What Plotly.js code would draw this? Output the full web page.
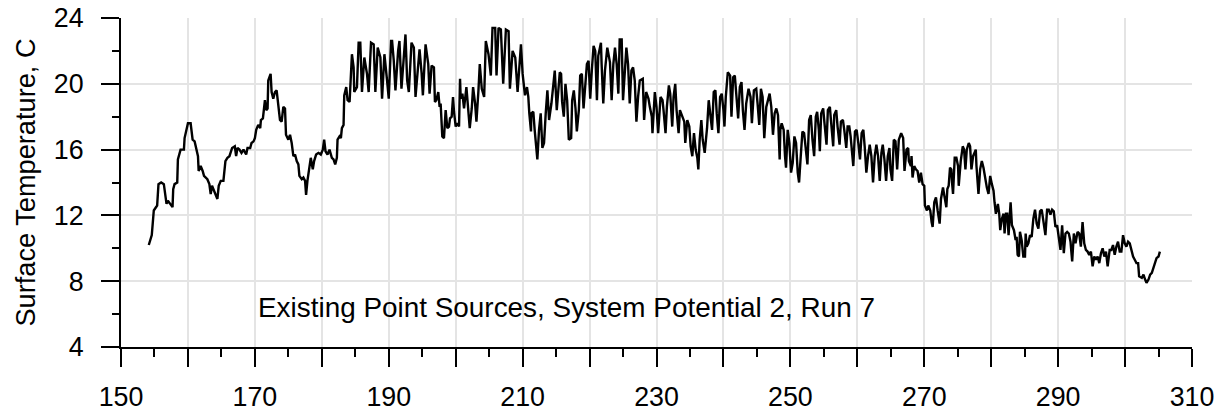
<!DOCTYPE html>
<html><head><meta charset="utf-8">
<script src="https://cdn.plot.ly/plotly-3.0.1.min.js"></script>
<style>html,body{margin:0;padding:0;background:#fff}#chart{width:1225px;height:414px}</style>
</head><body><div id="chart"></div>
<script>
const day = [
154.15,154.6,154.9,155.4,155.6,156.0,156.4,156.6,156.8,157.0,157.3,157.7,157.8,158.0,158.4,158.5,158.9,159.4,159.5,159.8,
160.0,160.4,160.5,160.7,161.0,161.2,161.5,161.6,161.9,162.2,162.4,162.9,163.2,163.4,163.6,163.9,164.4,164.6,164.9,165.3,
165.4,165.6,165.9,166.2,166.6,167.0,167.2,167.4,167.7,168.0,168.3,168.7,168.9,169.3,169.5,169.8,170.0,170.2,170.5,170.8,
170.9,171.2,171.5,171.7,171.9,172.0,172.35,172.5,172.75,173.0,173.25,173.5,173.75,174.0,174.25,174.5,174.65,175.0,175.25,175.5,
175.75,176.0,176.25,176.5,176.65,177.0,177.25,177.5,177.65,177.85,178.15,178.35,178.65,178.85,179.15,179.5,179.85,180.15,180.35,180.55,
180.85,181.15,181.5,181.75,182.0,182.25,182.35,182.65,182.85,183.0,183.25,183.35,183.65,183.85,184.15,184.35,184.5,184.75,184.85,185.25,
185.5,185.75,186.0,186.35,186.75,187.0,187.35,187.75,188.0,188.35,188.75,189.0,189.35,189.75,190.0,190.35,190.5,190.75,191.0,191.4,
191.6,191.9,192.25,192.5,192.75,193.0,193.4,193.75,194.0,194.4,194.6,194.9,195.1,195.5,195.9,196.1,196.4,196.75,196.9,197.1,
197.4,197.6,197.75,198.0,198.25,198.5,198.75,199.0,199.15,199.4,199.6,199.75,200.0,200.25,200.5,200.65,200.75,201.0,201.25,201.6,
201.9,202.1,202.4,202.6,202.9,203.1,203.4,203.6,203.9,204.25,204.5,204.9,205.25,205.5,205.9,206.1,206.4,206.75,207.1,207.5,
207.9,208.1,208.5,208.9,209.25,209.5,209.75,210.0,210.15,210.35,210.65,210.85,211.0,211.25,211.3,211.6,211.8,212.0,212.2,212.45,
212.7,212.95,213.2,213.45,213.7,213.95,214.3,214.6,214.8,215.1,215.3,215.55,215.75,215.9,216.15,216.4,216.65,216.9,217.25,217.4,
217.65,217.9,218.1,218.4,218.6,218.85,219.1,219.35,219.6,219.85,220.1,220.35,220.6,220.85,221.1,221.3,221.7,221.8,222.05,222.3,
222.65,223.05,223.3,223.55,223.8,224.05,224.3,224.5,224.8,225.0,225.3,225.5,225.75,226.0,226.25,226.5,226.75,227.0,227.25,227.5,
227.95,228.15,228.45,228.8,229.0,229.3,229.4,229.6,229.75,230.0,230.25,230.6,230.9,231.05,231.35,231.55,231.85,232.05,232.35,232.55,
232.8,233.0,233.3,233.5,233.8,234.15,234.3,234.6,234.9,235.1,235.35,235.6,235.85,236.1,236.25,236.45,236.7,236.9,237.2,237.55,
237.8,238.05,238.3,238.55,238.8,239.0,239.25,239.5,239.75,240.0,240.15,240.35,240.65,241.0,241.2,241.45,241.7,241.95,242.2,242.45,
242.7,242.9,243.15,243.4,243.75,244.05,244.25,244.55,244.9,245.1,245.35,245.6,245.85,246.1,246.4,246.9,247.15,247.4,247.65,247.9,
248.15,248.4,248.5,248.7,249.0,249.2,249.35,249.6,249.85,250.1,250.35,250.6,250.85,251.1,251.3,251.55,251.8,252.05,252.3,252.55,
252.8,253.05,253.3,253.55,253.8,254.0,254.25,254.4,254.6,254.9,255.1,255.4,255.6,255.9,256.1,256.4,256.55,256.85,257.05,257.35,
257.55,257.85,258.05,258.35,258.55,258.8,259.0,259.3,259.4,259.65,259.9,260.15,260.4,260.65,260.9,261.1,261.35,261.6,261.85,262.1,
262.35,262.6,262.85,263.1,263.35,263.6,263.8,264.05,264.3,264.55,264.8,264.95,265.2,265.45,265.7,265.95,266.2,266.55,266.85,267.05,
267.35,267.6,267.7,268.0,268.1,268.25,268.5,268.75,269.0,269.25,269.5,269.75,270.0,270.1,270.4,270.6,270.9,271.1,271.25,271.5,
271.75,272.0,272.3,272.5,272.8,273.0,273.3,273.45,273.65,273.85,274.05,274.15,274.3,274.55,274.8,275.05,275.15,275.45,275.75,275.95,
276.15,276.35,276.65,276.85,277.05,277.3,277.7,277.8,278.1,278.35,278.6,278.85,279.1,279.35,279.6,279.85,280.1,280.35,280.5,280.7,
281.0,281.2,281.35,281.6,281.85,282.0,282.2,282.4,282.6,282.9,283.1,283.4,283.65,283.8,283.95,284.15,284.3,284.55,284.8,285.05,
285.15,285.3,285.55,285.8,286.05,286.3,286.55,286.8,287.05,287.3,287.55,287.8,288.1,288.35,288.6,288.85,289.1,289.35,289.6,289.85,
290.1,290.35,290.6,290.85,291.1,291.35,291.6,291.85,292.1,292.35,292.6,292.9,293.15,293.4,293.65,293.9,294.15,294.4,294.65,294.9,
295.15,295.4,295.65,295.9,296.15,296.4,296.65,296.9,297.15,297.4,297.7,297.95,298.2,298.45,298.7,298.95,299.2,299.45,299.7,299.95,
300.2,300.45,300.7,300.95,301.2,301.45,301.7,301.95,302.1,302.5,302.75,303.0,303.2,303.5,303.75,304.0,304.25,304.5,304.7,305.0,
305.2
];
const temp = [
10.2,10.8,12.3,12.6,13.9,14.0,13.9,13.2,12.7,12.9,12.7,12.5,13.6,13.9,14.0,15.4,16.0,16.0,16.7,17.2,
17.6,17.6,17.1,16.6,16.5,16.1,15.6,14.7,15.0,14.7,14.4,14.2,13.9,13.3,13.8,13.5,13.0,13.8,14.1,14.1,
14.5,15.3,15.5,15.6,16.1,16.2,15.6,16.1,16.0,15.8,16.0,15.7,16.1,16.1,16.4,16.5,16.7,17.2,17.5,17.3,
17.8,17.9,19.0,18.4,18.5,20.2,20.6,19.5,19.1,19.5,19.6,18.8,17.8,17.7,18.6,18.5,16.9,16.6,16.9,16.4,
15.6,15.7,15.3,15.1,14.4,14.2,14.3,14.1,13.25,14.1,15.1,15.5,14.8,15.3,15.7,15.8,15.7,16.0,16.6,15.9,
15.7,16.0,15.5,15.4,15.1,15.5,16.6,16.8,16.7,17.3,17.5,19.3,19.8,19.0,18.9,20.2,21.8,21.0,19.5,19.8,
22.5,22.5,19.5,21.6,20.6,19.5,22.5,22.4,19.5,22.2,21.6,19.1,21.8,20.2,19.1,22.6,22.6,21.4,19.6,22.0,
22.6,19.7,21.6,23.0,20.2,19.5,22.5,22.2,19.2,21.0,22.1,20.7,19.3,22.4,21.2,19.4,21.1,21.0,18.9,19.0,
19.5,18.6,18.8,16.8,16.7,18.4,17.3,17.4,17.9,18.0,19.2,18.3,17.4,17.6,17.4,20.3,19.1,19.4,18.5,19.8,
18.2,17.3,18.5,19.8,18.8,17.7,19.6,21.2,19.7,19.2,22.6,21.8,20.5,23.4,23.4,20.5,23.4,23.3,20.0,23.3,
23.2,19.7,22.0,21.6,19.5,21.2,22.4,20.6,19.9,19.3,19.8,19.2,18.2,17.1,18.2,18.3,17.2,16.2,15.4,17.2,
18.2,16.1,16.4,18.2,19.6,17.8,18.8,20.0,20.8,18.4,19.7,20.7,20.6,18.9,18.0,20.0,19.0,16.6,16.7,19.0,
19.6,18.5,17.1,18.4,20.5,20.6,18.5,19.9,21.2,21.4,19.1,20.9,22.3,22.0,19.0,21.7,22.5,21.2,18.8,20.8,
22.2,21.3,19.0,21.2,22.2,21.2,19.4,22.7,22.7,19.0,20.8,22.2,21.2,18.8,20.8,21.0,20.2,17.7,19.2,20.2,
20.3,17.8,19.5,19.1,18.6,18.0,17.0,19.0,19.5,18.6,17.0,19.2,19.0,18.4,17.0,18.6,19.9,19.4,17.4,19.2,
20.0,18.4,17.0,18.4,18.1,17.7,16.4,17.8,17.4,16.2,15.6,17.0,16.0,15.5,14.8,16.6,17.8,16.6,15.8,17.3,
19.0,18.2,17.2,19.5,19.6,18.2,17.0,19.2,19.4,18.4,17.4,19.2,20.7,20.5,18.0,20.4,20.5,19.2,17.9,19.8,
20.1,18.4,17.2,18.8,19.7,19.2,17.6,19.6,19.7,18.8,17.5,19.7,19.2,16.7,18.6,19.4,18.6,16.9,18.2,18.5,
18.1,15.4,17.2,17.6,17.2,15.6,14.9,17.2,16.4,14.6,15.2,16.8,16.4,14.6,14.0,15.6,17.1,17.0,16.0,15.1,
17.8,18.1,16.6,15.6,18.0,18.3,17.2,15.9,18.2,18.5,17.6,16.3,18.4,18.6,17.6,16.2,18.1,18.4,17.4,16.3,
17.7,17.8,17.2,16.1,17.4,17.4,16.8,15.6,15.0,17.1,17.2,16.4,15.4,17.0,17.2,16.2,14.6,15.6,16.3,15.6,
14.0,15.6,16.3,15.6,14.1,15.8,16.3,15.4,14.1,15.6,16.1,14.8,14.1,16.6,16.5,14.8,16.6,17.0,16.7,14.7,
16.0,16.1,15.3,15.0,15.6,14.3,15.0,14.8,14.7,14.0,14.6,13.9,13.8,12.6,12.3,12.6,12.3,11.6,11.3,12.8,
13.1,12.3,11.5,13.0,13.7,13.2,12.5,13.6,13.8,14.9,14.8,14.0,13.3,15.5,15.5,15.0,13.8,15.3,16.2,16.0,
14.8,16.0,16.4,16.2,14.8,15.6,16.0,15.0,13.3,14.8,15.3,14.9,14.2,13.7,13.3,14.4,13.9,13.5,12.8,12.1,
12.7,12.1,11.1,11.8,12.1,10.9,12.1,12.1,10.8,12.8,11.4,11.1,10.5,10.7,9.6,9.5,11.0,10.5,9.5,9.5,
10.9,10.1,10.3,10.8,10.7,11.8,12.35,11.5,11.2,12.25,12.35,11.75,10.8,12.35,12.35,12.05,12.35,12.25,11.3,11.4,
10.7,9.9,11.4,9.7,10.9,11.0,10.9,10.4,9.2,10.9,10.3,11.0,10.9,10.1,11.6,10.3,9.9,9.8,9.6,9.8,
8.9,9.5,9.3,9.5,9.1,9.7,10.0,9.5,9.8,8.9,9.9,9.9,10.2,9.6,10.1,10.4,9.8,9.8,10.8,10.3,
10.1,10.4,10.3,9.8,9.5,9.3,9.1,9.1,8.3,8.2,8.4,8.1,7.9,8.1,8.4,8.5,8.8,9.1,9.4,9.5,
9.8
];
const xTickValues = [150,160,170,180,190,200,210,220,230,240,250,260,270,280,290,300,310];
const xTickLabels = ['150','','170','','190','','210','','230','','250','','270','','290','','310'];
const yTickValues = [4,8,12,16,20,24];
const yTickLabels = ['4','8','12','16','20','24'];
const yTitle = 'Surface Temperature, C';
const noteText = 'Existing Point Sources, System Potential 2, Run 7';

const FONT = '"Liberation Sans", Arial, sans-serif';
const FS = 26.8;

const trace = {
  x: day, y: temp, type: 'scatter', mode: 'lines',
  line: {color: '#000000', width: 2.4},
  hoverinfo: 'skip', showlegend: false
};

const layout = {
  width: 1225, height: 414,
  margin: {l: 121, r: 33, t: 18, b: 67, pad: 0},
  paper_bgcolor: '#ffffff', plot_bgcolor: '#ffffff',
  font: {family: FONT, size: FS, color: '#000000'},
  showlegend: false,
  xaxis: {
    range: [150, 310], autorange: false,
    tickmode: 'array', tickvals: xTickValues, ticktext: xTickLabels,
    ticks: 'outside', ticklen: 18, tickwidth: 2, tickcolor: '#000000',
    ticklabelstandoff: 7,
    showline: true, linecolor: '#000000', linewidth: 2,
    showgrid: true, gridcolor: '#e4e4e4', gridwidth: 2,
    zeroline: false,
    tickfont: {family: FONT, size: FS, color: '#000000'},
    minor: {tick0: 150, dtick: 5, ticks: 'outside', ticklen: 8, tickwidth: 2, tickcolor: '#000000', showgrid: false}
  },
  yaxis: {
    range: [4, 24], autorange: false,
    tickmode: 'array', tickvals: yTickValues, ticktext: yTickLabels,
    ticks: 'outside', ticklen: 18, tickwidth: 2, tickcolor: '#000000',
    ticklabelstandoff: 12,
    showline: true, linecolor: '#000000', linewidth: 2,
    showgrid: true, gridcolor: '#e4e4e4', gridwidth: 2,
    zeroline: false,
    tickfont: {family: FONT, size: FS, color: '#000000'},
    minor: {tick0: 4, dtick: 2, ticks: 'outside', ticklen: 7, tickwidth: 2, tickcolor: '#000000', showgrid: false},
    title: {text: yTitle, font: {family: FONT, size: 27.2, color: '#000000'}, standoff: 10}
  },
  annotations: [{
    text: noteText, xref: 'x', yref: 'y', x: 170.2, y: 6.4,
    xanchor: 'left', yanchor: 'middle', showarrow: false,
    font: {family: FONT, size: 27.9, color: '#000000'}
  }]
};

Plotly.newPlot('chart', [trace], layout, {staticPlot: true, displayModeBar: false});
</script>
</body></html>
